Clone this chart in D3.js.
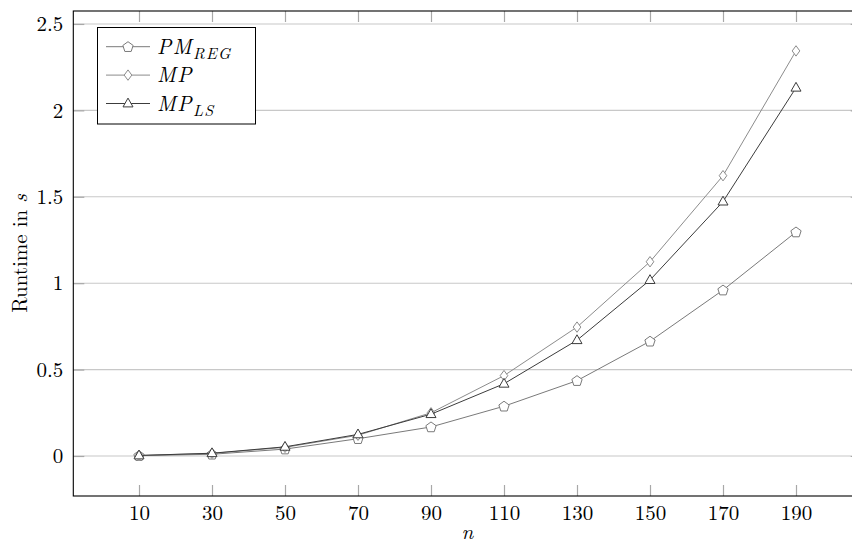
<!DOCTYPE html>
<html>
<head>
<meta charset="utf-8">
<script src="https://cdn.jsdelivr.net/npm/d3@7/dist/d3.min.js"></script>
</head>
<body style="margin:0;background:#fff">
<svg id="chart" width="852" height="544" style="display:block"></svg>
<script>
// Problem size n and runtimes (seconds) per method
const nValues = [10, 30, 50, 70, 90, 110, 130, 150, 170, 190];
const pmReg   = [0.002, 0.010, 0.040, 0.100, 0.168, 0.288, 0.436, 0.664, 0.960, 1.296];
const mp      = [0.003, 0.015, 0.050, 0.120, 0.250, 0.465, 0.746, 1.124, 1.622, 2.344];
const mpLs    = [0.003, 0.016, 0.053, 0.125, 0.242, 0.418, 0.670, 1.018, 1.472, 2.131];
const yTicks  = [0, 0.5, 1, 1.5, 2, 2.5];

const series = [
  { name: "PM", sub: "REG", values: pmReg, color: "#7a7a7a", symbol: "pentagon" },
  { name: "MP", sub: "",    values: mp,    color: "#8c8c8c", symbol: "diamond" },
  { name: "MP", sub: "LS",  values: mpLs,  color: "#3c3c3c", symbol: "triangle" }
];

const FONT = '"Latin Modern Roman", "Liberation Serif", serif';
const svg = d3.select("#chart");
const plot = { left: 73.3, right: 861.7, top: 11, bottom: 496 };

const x = d3.scaleLinear().domain([-8, 208]).range([plot.left, plot.right]);
const y = d3.scaleLinear().domain([-0.2315, 2.575]).range([plot.bottom, plot.top]);

const styleText = sel => sel
  .style("font-family", FONT).style("font-size", "21px").style("fill", "#000");

// horizontal grid
svg.append("g")
  .selectAll("line").data(yTicks).join("line")
  .attr("x1", plot.left).attr("x2", plot.right)
  .attr("y1", d => y(d)).attr("y2", d => y(d))
  .attr("stroke", "#c8c8c8").attr("stroke-width", 1.1);

// inner tick marks (bottom, top, left, right)
const tickLen = 11;
const styleAxis = g => {
  g.select(".domain").remove();
  g.selectAll(".tick line").attr("stroke", "#a8a8a8").attr("stroke-width", 1.2);
  g.selectAll(".tick text").call(styleText);
};

svg.append("g")
  .attr("transform", `translate(0,${plot.bottom})`)
  .call(d3.axisBottom(x).tickValues(nValues).tickSize(-tickLen).tickPadding(9).tickFormat(d3.format("d")))
  .call(styleAxis);

svg.append("g")
  .attr("transform", `translate(0,${plot.top})`)
  .call(d3.axisTop(x).tickValues(nValues).tickSize(-tickLen).tickFormat(""))
  .call(styleAxis);

svg.append("g")
  .attr("transform", `translate(${plot.left},0)`)
  .call(d3.axisLeft(y).tickValues(yTicks).tickSize(-tickLen).tickPadding(10).tickFormat(d => d3.format("")(d)))
  .call(styleAxis);

svg.append("g")
  .attr("transform", `translate(${plot.right},0)`)
  .call(d3.axisRight(y).tickValues(yTicks).tickSize(-tickLen).tickFormat(""))
  .call(styleAxis);

// frame
svg.append("rect")
  .attr("x", plot.left).attr("y", plot.top)
  .attr("width", plot.right - plot.left).attr("height", plot.bottom - plot.top)
  .attr("fill", "none").attr("stroke", "#000").attr("stroke-width", 1.1);

// marker shapes
function markerPath(kind) {
  if (kind === "pentagon") {
    const r = 5.4, pts = [];
    for (let i = 0; i < 5; i++) {
      const a = -Math.PI / 2 + i * 2 * Math.PI / 5;
      pts.push([r * Math.cos(a), r * Math.sin(a) + 0.4]);
    }
    return "M" + pts.map(p => p.join(",")).join("L") + "Z";
  }
  if (kind === "diamond") return "M0,-5.2L3.8,0L0,5.2L-3.8,0Z";
  return "M0,-5.4L5,3.4L-5,3.4Z";
}

const line = d3.line().x((d, i) => x(nValues[i])).y(d => y(d));

series.forEach(s => {
  const g = svg.append("g");
  g.append("path")
    .attr("d", line(s.values))
    .attr("fill", "none").attr("stroke", s.color).attr("stroke-width", 1);
  g.selectAll("path.m").data(s.values).join("path")
    .attr("class", "m")
    .attr("d", markerPath(s.symbol))
    .attr("transform", (d, i) => `translate(${x(nValues[i])},${y(d)})`)
    .attr("fill", "#fff").attr("stroke", s.color).attr("stroke-width", 1);
});

// axis titles
svg.append("text")
  .attr("x", (plot.left + plot.right) / 2).attr("y", 539)
  .attr("text-anchor", "middle")
  .call(styleText).style("font-style", "italic")
  .text("n");

const yl = svg.append("text")
  .attr("transform", `translate(27,${(plot.top + plot.bottom) / 2}) rotate(-90)`)
  .attr("text-anchor", "middle")
  .call(styleText);
yl.append("tspan").text("Runtime in ");
yl.append("tspan").style("font-style", "italic").text("s");

// legend
const legend = svg.append("g");
legend.append("rect")
  .attr("x", 97.5).attr("y", 27.5).attr("width", 158).attr("height", 96.5)
  .attr("fill", "#fff").attr("stroke", "#000").attr("stroke-width", 1);

series.forEach((s, i) => {
  const cy = 46.7 + i * 28.4;
  legend.append("line")
    .attr("x1", 106).attr("x2", 150).attr("y1", cy).attr("y2", cy)
    .attr("stroke", s.color).attr("stroke-width", 1);
  legend.append("path")
    .attr("d", markerPath(s.symbol))
    .attr("transform", `translate(128,${cy})`)
    .attr("fill", "#fff").attr("stroke", s.color).attr("stroke-width", 1);
  const t = legend.append("text")
    .attr("x", 157).attr("y", cy + 7)
    .call(styleText).style("font-style", "italic");
  t.append("tspan").style("letter-spacing", "1.5px").text(s.name);
  if (s.sub) {
    t.append("tspan").attr("dy", 5)
      .style("font-size", "16px").style("letter-spacing", "1.2px").text(s.sub);
  }
});
</script>
</body>
</html>
